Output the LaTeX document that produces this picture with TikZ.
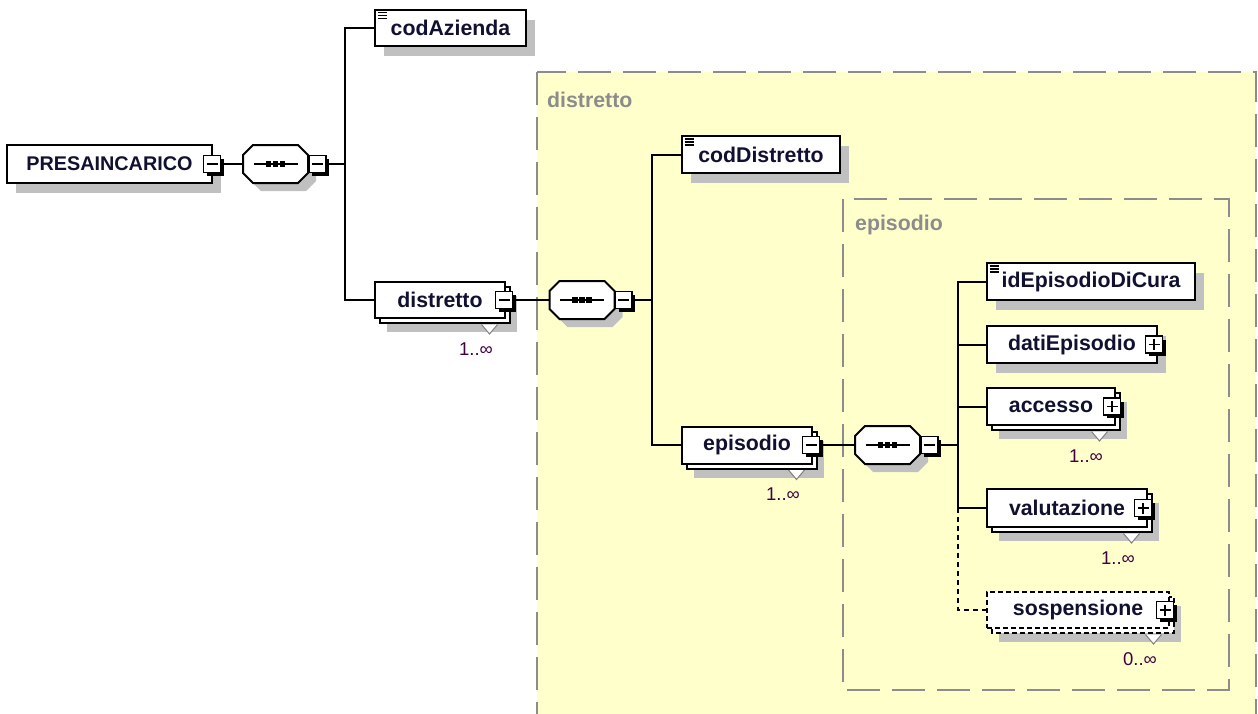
\documentclass[tikz,border=0pt]{standalone}
\usepackage{fontspec}
\setmainfont{Liberation Sans}
\usetikzlibrary{calc}
\definecolor{frameyellow}{RGB}{255,255,204}
\definecolor{framegray}{RGB}{140,140,140}
\definecolor{shadowgray}{RGB}{192,192,192}
\definecolor{txtcol}{RGB}{16,16,48}
\definecolor{multcol}{RGB}{64,0,64}
\tikzset{
  elembox/.style={draw=black, line width=2pt, fill=white, inner sep=0pt,
    font=\fontsize{21.3}{24}\selectfont\bfseries, text=txtcol},
  conn/.style={line width=2pt, draw=black},
  btnbox/.style={draw=black, line width=1.6pt, fill=white, inner sep=0pt,
    minimum width=17pt, minimum height=17pt},
  framebox/.style={draw=framegray, line width=2pt, dash pattern=on 33pt off 12pt},
  framelabel/.style={font=\fontsize{21.3}{24}\selectfont\bfseries, text=framegray,
    inner sep=0pt, anchor=west},
  multlabel/.style={font=\fontsize{18.5}{20}\selectfont, text=multcol, inner sep=0pt},
  seqnode/.style={inner sep=0pt, minimum width=65pt, minimum height=38pt},
  solidline/.style={solid},
  sospdash/.style={dash pattern=on 5pt off 3pt},
}
% simple element: name, cx, cy, w, h, text
\newcommand\xsdElem[6]{%
  \fill[shadowgray] ({#2-#4/2+9},{#3-#5/2+10}) rectangle ++(#4,#5);
  \node[elembox, minimum width=#4pt, minimum height=#5pt] (#1) at (#2,#3) {#6};
}
% multiple element: name, cx, cy, w, h, text, multiplicity, line style
\newcommand\xsdMulti[8]{%
  \fill[shadowgray] ({#2-#4/2+12},{#3-#5/2+14}) rectangle ++(#4,#5);
  \draw[elembox, #8] ({#2-#4/2+5},{#3-#5/2+5}) rectangle ++(#4,#5);
  \node[elembox, #8, minimum width=#4pt, minimum height=#5pt] (#1) at (#2,#3) {#6};
  \filldraw[fill=white, draw=gray, line width=1pt]
    ([shift={(-24.5,5.5)}]#1.south east) -- ([shift={(-16.5,15)}]#1.south east)
    -- ([shift={(-8.5,5.5)}]#1.south east);
  \node[multlabel] (#1m) at ([shift={(-30,30)}]#1.south east) {#7};
}
% simple type icon
\newcommand\xsdIcon[1]{%
  \foreach \k in {0,1,2}{\draw[line width=1.3pt] ([shift={(3.5,4+3*\k)}]#1.north west) -- ++(9,0);}
}
% expand button: name, position, sign
\newcommand\xsdBtn[3]{%
  \coordinate (#1c) at (#2);
  \fill[black] ([shift={(-5,-5)}]#1c) rectangle ([shift={(11.5,11.5)}]#1c);
  \node[btnbox] (#1) at (#1c) {};
  \draw[line width=1.6pt] ([xshift=-5.5pt]#1.center) -- ([xshift=5.5pt]#1.center);
  \ifx#3+\draw[line width=1.6pt] ([yshift=-5.5pt]#1.center) -- ([yshift=5.5pt]#1.center);\fi
}
% sequence compositor: name, cx, cy
\newcommand\xsdSeq[3]{%
  \begin{scope}[shift={(8,8)}]
    \fill[shadowgray] ({#2-32.5},{#3-9}) -- ({#2-22.5},{#3-19}) -- ({#2+22.5},{#3-19})
      -- ({#2+32.5},{#3-9}) -- ({#2+32.5},{#3+9}) -- ({#2+22.5},{#3+19})
      -- ({#2-22.5},{#3+19}) -- ({#2-32.5},{#3+9}) -- cycle;
  \end{scope}
  \filldraw[fill=white, draw=black, line width=2pt] ({#2-32.5},{#3-9}) -- ({#2-22.5},{#3-19})
    -- ({#2+22.5},{#3-19}) -- ({#2+32.5},{#3-9}) -- ({#2+32.5},{#3+9})
    -- ({#2+22.5},{#3+19}) -- ({#2-22.5},{#3+19}) -- ({#2-32.5},{#3+9}) -- cycle;
  \node[seqnode] (#1) at (#2,#3) {};
  \draw[line width=1.6pt] ({#2-22},#3) -- ({#2+22},#3);
  \foreach \d in {-7,0,7}{\fill ({#2+\d-2.75},{#3-2.75}) rectangle ++(5.5,5.5);}
  \xsdBtn{#1b}{[xshift=9pt]#1.east}{-}
}
\begin{document}
\begin{tikzpicture}[x=1pt,y=-1pt]
\useasboundingbox (0,0) rectangle (1258,713);
\clip (0,0) rectangle (1258,713);
\fill[white] (0,0) rectangle (1258,713);

% frames
\fill[frameyellow] (537,72) rectangle (1256,740);
\draw[framebox] (537,72) rectangle (1256,740);
\node[framelabel] (frameDistretto) at (547,100) {distretto};
\draw[framebox] (843,199) rectangle (1229,690);
\node[framelabel] (frameEpisodio) at (855,225) {episodio};

% level 0
\xsdElem{root}{109.5}{164}{205}{38}{\fontsize{19.8}{24}\selectfont PRESAINCARICO\hspace{3pt}}
\xsdBtn{rootb}{[xshift=-1pt]root.east}{-}
\xsdSeq{seqa}{275.5}{164}

% level 1
\xsdElem{codAzienda}{450.5}{27.5}{151}{36}{codAzienda}
\xsdIcon{codAzienda}
\xsdMulti{distretto}{440}{300}{130}{36}{distretto\hspace{6pt}}{1..∞}{solidline}
\xsdBtn{distrettob}{[xshift=-2pt]distretto.east}{-}
\xsdSeq{seqb}{582}{300}

% level 2
\xsdElem{codDistretto}{761}{154.5}{158}{37}{codDistretto}
\xsdIcon{codDistretto}
\xsdMulti{episodio}{747}{445}{130}{37}{episodio\hspace{8pt}}{1..∞}{solidline}
\xsdBtn{episodiob}{[xshift=-2pt]episodio.east}{-}
\xsdSeq{seqc}{887.5}{445}

% level 3
\xsdElem{idEp}{1091}{281.5}{208}{37}{idEpisodioDiCura}
\xsdIcon{idEp}
\xsdElem{dati}{1072}{344.5}{170}{37}{datiEpisodio\hspace{11pt}}
\xsdBtn{datib}{[xshift=-4pt]dati.east}{+}
\xsdMulti{accesso}{1051}{406.5}{128}{37}{accesso\hspace{8pt}}{1..∞}{solidline}
\xsdBtn{accessob}{[xshift=-4pt]accesso.east}{+}
\xsdMulti{valutazione}{1067}{508}{160}{38}{valutazione\hspace{11pt}}{1..∞}{solidline}
\xsdBtn{valutazioneb}{[xshift=-5pt]valutazione.east}{+}
\xsdMulti{sospensione}{1078}{610}{182}{36}{sospensione\hspace{12pt}}{0..∞}{sospdash}
\xsdBtn{sospensioneb}{[xshift=-5pt]sospensione.east}{+}

% connectors
\coordinate (busa) at (345,164);
\coordinate (busb) at (652,300);
\coordinate (busc) at (958,445);
\draw[conn] (rootb.east) -- (seqa.west);
\draw[conn] (seqab.east) -- (busa);
\draw[conn] (busa) |- (codAzienda.west);
\draw[conn] (busa) |- (distretto.west);
\draw[conn] (distrettob.east) -- (seqb.west);
\draw[conn] (seqbb.east) -- (busb);
\draw[conn] (busb) |- (codDistretto.west);
\draw[conn] (busb) |- (episodio.west);
\draw[conn] (episodiob.east) -- (seqc.west);
\draw[conn] (seqcb.east) -- (busc);
\draw[conn] (busc) |- (idEp.west);
\draw[conn] (busc) |- (dati.west);
\draw[conn] (busc) |- (accesso.west);
\draw[conn] (busc) |- (valutazione.west);
\draw[conn, dash pattern=on 5pt off 4pt] (busc |- valutazione.west) |- (sospensione.west);
\end{tikzpicture}
\end{document}
